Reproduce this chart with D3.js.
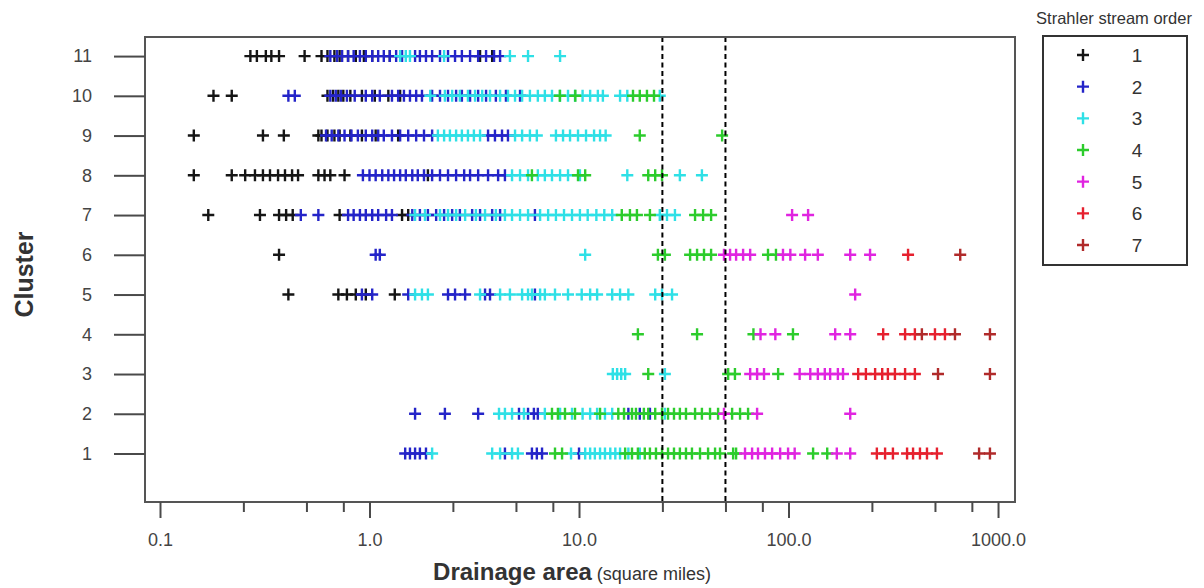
<!DOCTYPE html>
<html>
<head>
<meta charset="utf-8">
<script src="https://cdn.jsdelivr.net/npm/d3@7/dist/d3.min.js"></script>
<style>
  html, body { margin: 0; padding: 0; background: #fff; }
  svg { display: block; font-family: "Liberation Sans", Arial, sans-serif; }
</style>
</head>
<body>
<svg id="chart" width="1204" height="588"></svg>
<script>
// ---------------- DATA (drainage area in square miles, per cluster) ----------------
const clusters = [1, 2, 3, 4, 5, 6, 7, 8, 9, 10, 11];
const streamOrders = [1, 2, 3, 4, 5, 6, 7];
const orderColors = ["#151515", "#2424c8", "#2ee0e6", "#2ccc2c", "#e024e0", "#e6202e", "#b02a2a"];
const xTickValues = [0.1, 1, 10, 100, 1000];
const xTickLabels = ["0.1", "1.0", "10.0", "100.0", "1000.0"];
const xMinorTicks = [0.25, 0.5, 0.75, 2.5, 5, 7.5, 25, 50, 75, 250, 500, 750];
const thresholds = [25, 50];

const order1 = [
  { cluster: 11, area: [0.27,0.29,0.32,0.34,0.37,0.49,0.59,0.63,0.68,0.72,0.79,0.86,0.94,1.03,1.25,3.37,3.85] },
  { cluster: 10, area: [0.18,0.22,0.63,0.67,0.71,0.75,0.81,0.92,1.06,1.23,1.40] },
  { cluster: 9,  area: [0.145,0.31,0.39,0.57,0.59,0.63,0.68,0.72,0.81,0.92,1.07,1.37] },
  { cluster: 8,  area: [0.145,0.22,0.255,0.284,0.31,0.335,0.366,0.395,0.427,0.456,0.57,0.61,0.65,0.76,1.90] },
  { cluster: 7,  area: [0.17,0.30,0.37,0.40,0.43,0.72,1.43,1.53] },
  { cluster: 6,  area: [0.37] },
  { cluster: 5,  area: [0.41,0.71,0.78,0.86,0.96,1.32] }
];
const order2 = [
  { cluster: 11, area: [0.65,0.70,0.74,0.79,0.84,0.90,0.96,1.03,1.10,1.17,1.25,1.34,1.43,1.65,1.74,1.86,1.99,2.17,2.37,2.56,2.76,3.02,3.30,3.60,3.93,4.20] },
  { cluster: 10, area: [0.41,0.44,0.65,0.69,0.73,0.78,0.85,0.96,1.03,1.12,1.28,1.37,1.46,1.56,1.67,1.78,1.99,2.17,2.37,2.59,2.76,3.02,3.30,3.60,4.01,4.48,5.23] },
  { cluster: 9,  area: [0.62,0.66,0.71,0.76,0.82,0.88,0.96,1.03,1.10,1.17,1.28,1.40,1.53,1.67,1.82,1.99,3.68,3.97,4.29,4.58] },
  { cluster: 8,  area: [0.93,1.0,1.07,1.15,1.23,1.31,1.40,1.49,1.60,1.70,1.82,1.99,2.17,2.37,2.59,2.83,3.02,3.30,3.68,4.11,4.43] },
  { cluster: 7,  area: [0.47,0.57,0.79,0.84,0.90,0.96,1.03,1.10,1.20,1.28,1.60,1.74,1.90,2.08,2.27,2.48,2.70,3.09,3.37,3.85,4.20,6.16] },
  { cluster: 6,  area: [1.07,1.12] },
  { cluster: 5,  area: [0.92,1.03,1.53,2.37,2.56,2.86,3.56,3.76,6.16] },
  { cluster: 2,  area: [1.65,2.29,3.30,5.17,5.71,6.09,6.36,17.2,19.5,21.8] },
  { cluster: 1,  area: [1.48,1.56,1.65,1.74,1.86,4.43,5.96,6.29,6.66,10.0] }
];
const order3 = [
  { cluster: 11, area: [1.40,1.49,1.56,2.27,4.68,5.71,8.12] },
  { cluster: 10, area: [1.95,2.29,2.48,2.70,2.95,3.19,3.45,3.76,4.20,4.58,4.95,5.35,5.83,6.36,6.87,7.43,8.12,8.86,9.57,10.4,11.3,12.3,13.0,15.7,17.0,24.3] },
  { cluster: 9,  area: [2.12,2.27,2.42,2.59,2.76,2.95,3.15,3.37,4.95,5.35,5.83,6.29,7.76,8.39,9.06,9.89,10.8,11.8,12.6,13.4] },
  { cluster: 8,  area: [4.79,5.23,5.71,6.36,6.87,7.43,8.12,8.86,10.1,17.0,30.3,38.6] },
  { cluster: 7,  area: [1.65,1.84,2.17,2.37,2.59,2.86,3.22,3.56,4.01,4.43,4.79,5.23,5.71,6.52,7.12,7.76,8.48,9.26,10.1,11.0,12.1,13.2,14.4,24.3,26.3,28.7] },
  { cluster: 6,  area: [10.7] },
  { cluster: 5,  area: [1.65,1.78,1.90,3.37,4.20,4.68,5.35,5.71,5.96,6.52,6.87,7.68,8.86,10.3,11.3,12.2,14.4,15.7,17.2,23.1,24.9,27.8] },
  { cluster: 3,  area: [14.5,15.2,15.9,16.6,25.7] },
  { cluster: 2,  area: [4.15,4.43,4.79,5.46,6.87,8.12,9.26,10.4,11.3,12.2,13.3,14.4,25.7] },
  { cluster: 1,  area: [1.99,3.85,4.20,4.79,5.11,9.16,10.7,11.3,11.9,12.6,13.3,14.1,14.9,15.7,17.2,19.5] }
];
const order4 = [
  { cluster: 10, area: [8.1,9.6,18.1,19.5,21.1,22.8] },
  { cluster: 9,  area: [19.5,48.2] },
  { cluster: 8,  area: [5.96,9.89,10.7,21.4,23.1,24.9] },
  { cluster: 7,  area: [16.0,17.5,18.9,21.8,35.8,39.1,42.7] },
  { cluster: 6,  area: [23.8,25.7,33.9,36.6,39.5,42.7,79.8,87.1] },
  { cluster: 4,  area: [19.1,36.6,68.0,105] },
  { cluster: 3,  area: [21.4,51.5,55.5,89.2] },
  { cluster: 2,  area: [7.43,7.93,8.57,9.57,12.6,15.4,16.4,17.9,18.7,20.4,21.4,23.1,24.9,26.6,28.4,30.3,32.4,35.8,38.6,42.2,46.1,53.8,58.7,64.1] },
  { cluster: 1,  area: [7.68,8.30,16.6,17.9,19.1,20.6,21.8,23.3,24.9,26.6,28.4,30.3,32.4,34.6,37.8,41.3,44.6,47.1,54.4,56.2,131,153] }
];
const order5 = [
  { cluster: 7, area: [104,124] },
  { cluster: 6, area: [49.2,52.6,56.2,60.7,65.6,94.1,102,120,138,197,245] },
  { cluster: 5, area: [208] },
  { cluster: 4, area: [73.5,86.5,167,197] },
  { cluster: 3, area: [65.6,70.8,76.4,113,127,138,149,158,172,182] },
  { cluster: 2, area: [49.2,70.8,197] },
  { cluster: 1, area: [62.0,67.0,71.5,77.2,83.5,91.2,99.5,107,170,197] }
];
const order6 = [
  { cluster: 6, area: [372] },
  { cluster: 4, area: [283,360,401,500,558] },
  { cluster: 3, area: [215,234,259,280,298,322,360,401] },
  { cluster: 1, area: [264,289,315,368,393,424,458,511] }
];
const order7 = [
  { cluster: 6, area: [660] },
  { cluster: 4, area: [433,623,915] },
  { cluster: 3, area: [517,915] },
  { cluster: 1, area: [812,915] }
];
const allOrders = [order1, order2, order3, order4, order5, order6, order7];

// ---------------- CHART ----------------
const svg = d3.select("#chart");
const plot = { left: 145, right: 1015, top: 37, bottom: 502 };

const x = d3.scaleLog().domain([0.0848, 1205]).range([plot.left, plot.right]);
const y = d3.scaleLinear().domain([-0.22, 11.48]).range([plot.bottom, plot.top]);
const color = d3.scaleOrdinal().domain(streamOrders).range(orderColors);

const points = [];
allOrders.forEach((series, i) => {
  series.forEach(row => row.area.forEach(a => points.push({ order: streamOrders[i], cluster: row.cluster, area: a })));
});

const plusPath = "M-6,0H6M0,-6V6";

// markers
svg.append("g").attr("class", "marks")
  .selectAll("path").data(points).join("path")
  .attr("transform", d => `translate(${x(d.area)},${y(d.cluster)})`)
  .attr("d", plusPath)
  .attr("fill", "none")
  .attr("stroke", d => color(d.order))
  .attr("stroke-width", 2.4);

// threshold dashed lines
svg.append("g").selectAll("line").data(thresholds).join("line")
  .attr("x1", d => x(d)).attr("x2", d => x(d))
  .attr("y1", plot.top).attr("y2", plot.bottom)
  .attr("stroke", "#000").attr("stroke-width", 2)
  .attr("stroke-dasharray", "5,3.5");

// frame
svg.append("rect")
  .attr("x", plot.left).attr("y", plot.top)
  .attr("width", plot.right - plot.left).attr("height", plot.bottom - plot.top)
  .attr("fill", "none").attr("stroke", "#555").attr("stroke-width", 2);

// y axis
const yAxis = svg.append("g").attr("transform", `translate(${plot.left},0)`)
  .call(d3.axisLeft(y).tickValues(clusters).tickSize(31).tickPadding(22).tickFormat(d3.format("d")));
yAxis.select(".domain").remove();
yAxis.selectAll(".tick line").attr("stroke", "#4a4a4a").attr("stroke-width", 2);
yAxis.selectAll(".tick text").attr("fill", "#444").style("font-size", "18px");

// x axis major
const xAxis = svg.append("g").attr("transform", `translate(0,${plot.bottom})`)
  .call(d3.axisBottom(x).tickValues(xTickValues).tickSize(16).tickPadding(15)
    .tickFormat((d, i) => xTickLabels[i]));
xAxis.select(".domain").remove();
xAxis.selectAll(".tick line").attr("stroke", "#4a4a4a").attr("stroke-width", 2);
xAxis.selectAll(".tick text").attr("fill", "#444").style("font-size", "18px");

// x axis minor
const xMinor = svg.append("g").attr("transform", `translate(0,${plot.bottom})`)
  .call(d3.axisBottom(x).tickValues(xMinorTicks).tickSize(10).tickFormat(""));
xMinor.select(".domain").remove();
xMinor.selectAll(".tick line").attr("stroke", "#4a4a4a").attr("stroke-width", 2);

// axis titles
const xt = svg.append("text")
  .attr("x", (plot.left + plot.right) / 2 - 8).attr("y", 580)
  .attr("text-anchor", "middle").attr("fill", "#333");
xt.append("tspan").attr("font-weight", "bold").style("font-size", "24px").text("Drainage area");
xt.append("tspan").style("font-size", "18px").text(" (square miles)");

svg.append("text")
  .attr("transform", `translate(33,${(plot.top + plot.bottom) / 2 + 5}) rotate(-90)`)
  .attr("text-anchor", "middle").attr("font-weight", "bold")
  .attr("fill", "#333").style("font-size", "25px").text("Cluster");

// legend
const legend = svg.append("g");
legend.append("text").attr("x", 1114).attr("y", 24).attr("text-anchor", "middle")
  .attr("fill", "#333").style("font-size", "16.5px").text("Strahler stream order");
legend.append("rect").attr("x", 1043).attr("y", 36).attr("width", 144).attr("height", 229)
  .attr("fill", "none").attr("stroke", "#333").attr("stroke-width", 2);
const ly = d3.scalePoint().domain(streamOrders).range([55, 245]);
const items = legend.selectAll("g.item").data(streamOrders).join("g")
  .attr("class", "item").attr("transform", d => `translate(0,${ly(d)})`);
items.append("path").attr("transform", "translate(1083,0)").attr("d", plusPath)
  .attr("fill", "none").attr("stroke", d => color(d)).attr("stroke-width", 2.4);
items.append("text").attr("x", 1137).attr("y", 7).attr("text-anchor", "middle")
  .attr("fill", "#333").style("font-size", "19px").text(d => d);
</script>
</body>
</html>
